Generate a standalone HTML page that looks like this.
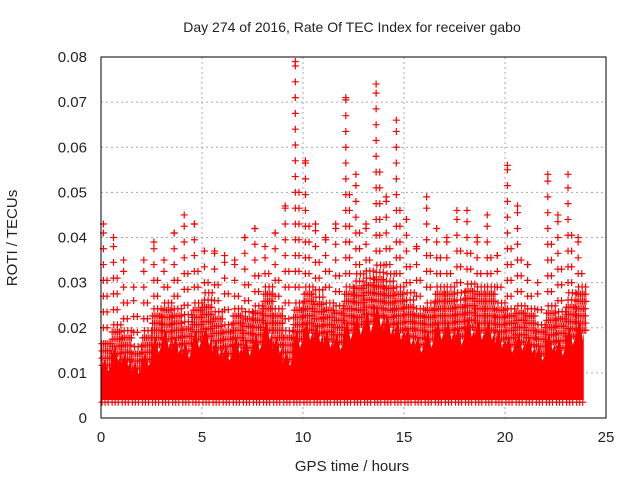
<!DOCTYPE html>
<html><head><meta charset="utf-8"><style>
body{margin:0;background:#fff;}
svg text{font-family:"Liberation Sans","DejaVu Sans",sans-serif;fill:#222;}
</style></head><body>
<svg id="chart" width="640" height="480">
<text x="352" y="32" font-size="14" text-anchor="middle">Day 274 of 2016, Rate Of TEC Index for receiver gabo</text>
<text x="17" y="238" font-size="15" text-anchor="middle" transform="rotate(-90 17 238)">ROTI / TECUs</text>
<text x="352" y="471" font-size="15" text-anchor="middle">GPS time / hours</text>
<g id="grid"></g><g id="ticks"></g><g id="marks"></g>
<rect x="101" y="57" width="505" height="361" fill="none" stroke="#000" stroke-width="1"/>
</svg>
<script>
const binStarts=[0,0.5,1,1.5,2,2.5,3,3.5,4,4.5,5,5.5,6,6.5,7,7.5,8,8.5,9,9.5,10,10.5,11,11.5,12,12.5,13,13.5,14,14.5,15,15.5,16,16.5,17,17.5,18,18.5,19,19.5,20,20.5,21,21.5,22,22.5,23,23.5];
const denseTop=[0.018,0.022,0.02,0.017,0.02,0.025,0.027,0.025,0.023,0.027,0.028,0.024,0.022,0.025,0.024,0.026,0.03,0.025,0.02,0.027,0.03,0.029,0.027,0.026,0.03,0.032,0.033,0.035,0.032,0.03,0.028,0.025,0.027,0.03,0.03,0.028,0.031,0.03,0.03,0.027,0.025,0.026,0.025,0.022,0.026,0.024,0.028,0.03];
const maxVal=[0.043,0.04,0.035,0.029,0.035,0.039,0.035,0.041,0.045,0.043,0.037,0.037,0.036,0.035,0.04,0.042,0.038,0.041,0.047,0.079,0.057,0.043,0.04,0.043,0.071,0.054,0.043,0.074,0.049,0.066,0.044,0.038,0.049,0.042,0.04,0.046,0.046,0.04,0.045,0.036,0.056,0.047,0.034,0.03,0.054,0.045,0.054,0.04];
const denseLow=0.004;
const xTicks=[0,5,10,15,20,25];
const yTicks=[0,0.01,0.02,0.03,0.04,0.05,0.06,0.07,0.08];
const yTickLabels=["0","0.01","0.02","0.03","0.04","0.05","0.06","0.07","0.08"];
const binWidth=0.5, lastHour=23.9;
const X=h=>101+h*(505/25), Y=v=>418-v*(361/0.08);
const NS="http://www.w3.org/2000/svg";
function mk(t,a,p){const e=document.createElementNS(NS,t);for(const k in a)e.setAttribute(k,a[k]);p.appendChild(e);return e;}
const grid=document.getElementById('grid'),ticks=document.getElementById('ticks'),marks=document.getElementById('marks');
xTicks.forEach(t=>{
 if(t>0&&t<25){const g=mk('line',{x1:X(t),x2:X(t),y1:57,y2:418,stroke:'#aaa','stroke-dasharray':'2,3'},grid);
 
 }
 const l=mk('text',{x:X(t),y:442,'font-size':15,'text-anchor':'middle'},ticks);l.textContent=t;
 
 
});
yTicks.forEach((t,i)=>{
 if(i>0&&i<yTicks.length-1){const g=mk('line',{x1:101,x2:606,y1:Y(t),y2:Y(t),stroke:'#aaa','stroke-dasharray':'2,3'},grid);
 
 }
 const l=mk('text',{x:87,y:Y(t)+5,'font-size':15,'text-anchor':'end'},ticks);l.textContent=yTickLabels[i];
 
 
});
// solid dense body (lower part)
let pts=[];
binStarts.forEach((b,i)=>{const e=Math.min(b+binWidth,lastHour);const s=denseTop[i]*0.72;
 pts.push(X(b)+','+Y(s*0.85));pts.push(X(b+0.2)+','+Y(s));pts.push(X(b+0.35)+','+Y(s*0.8));pts.push(X(e)+','+Y(s*0.9));});
pts.push(X(lastHour)+','+Y(denseLow));pts.push(X(0)+','+Y(denseLow));
const body=mk('polygon',{points:pts.join(' '),fill:'#f00'},marks);


function plus(x,y){const p=mk('path',{d:`M${x-3.5},${y}h7M${x},${y-3.5}v7`,stroke:'#f00','stroke-width':1.2},marks);
 
 }
// lower-edge ragged points
binStarts.forEach((b,i)=>{[0.05,0.2,0.35].forEach(o=>plus(X(b+o),Y(denseLow-0.0005)));});
binStarts.forEach((b,i)=>{
 const top=maxVal[i],base=denseTop[i],solid=base*0.72;
 // semi-dense band
 [0.03,0.12,0.21,0.3,0.39,0.47].forEach((o,k)=>{
  const lim=solid+(base-solid)*(k%2?1:0.7);
  for(let v=solid*0.9;v<=lim+1e-9;v+=0.0016){plus(X(b+o+(v*1000%2)*0.02),Y(v));}
 });
 // sparse upper markers
 [0.12,0.3].forEach((o,k)=>{
  const lim=k===0?top:base+(top-base)*0.5;
  for(let v=base+0.002;v<=lim+1e-9;v+=0.0035){plus(X(b+o),Y(v));}
 });
 plus(X(b+0.12),Y(top));
});
</script>
</body></html>
